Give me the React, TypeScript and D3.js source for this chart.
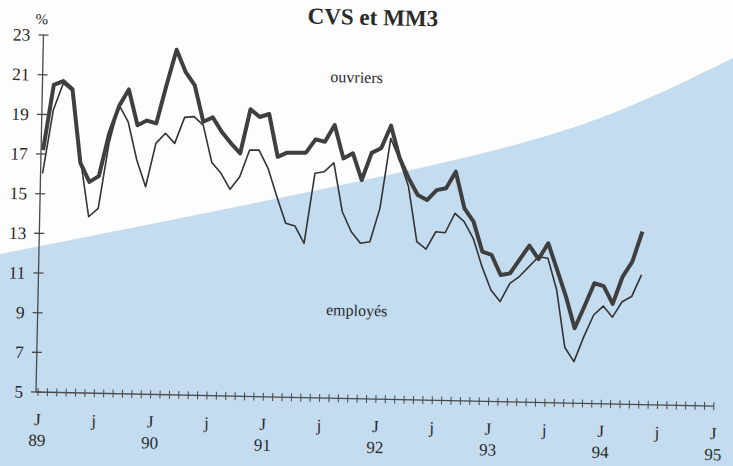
import React from "react";
import * as d3 from "d3";

// Monthly values, Jan 1989 .. May 1994 (%)
const ouvriers = [
  17.2, 20.5, 20.7, 20.3, 16.6, 15.65, 15.95, 18.1, 19.5, 20.35, 18.55, 18.8,
  18.67, 20.6, 22.4, 21.3, 20.64, 18.8, 19.03, 18.3, 17.74, 17.25, 19.48, 19.1,
  19.26, 17.11, 17.33, 17.34, 17.35, 18.03, 17.92, 18.77, 17.1, 17.37, 16.03, 17.41,
  17.65, 18.8, 17.16, 16.16, 15.33, 15.09, 15.6, 15.7, 16.55, 14.71, 14.05, 12.55,
  12.39, 11.39, 11.48, 12.2, 12.9, 12.23, 13.04, 11.72, 10.38, 8.78, 9.9, 11.07,
  10.94, 10.05, 11.44, 12.2, 13.72,
];
const employes = [
  16.03, 19.23, 20.58, 20.2, 16.8, 13.89, 14.32, 17.6, 19.55, 18.72, 16.8, 15.46,
  17.66, 18.18, 17.68, 19.0, 19.05, 18.63, 16.75, 16.22, 15.42, 16.07, 17.42, 17.43,
  16.52, 15.1, 13.77, 13.64, 12.78, 16.32, 16.41, 16.87, 14.41, 13.41, 12.84, 12.93,
  14.62, 18.16, 17.08, 15.74, 12.98, 12.61, 13.5, 13.46, 14.45, 14.04, 13.21, 11.79,
  10.62, 10.05, 10.98, 11.33, 11.84, 12.35, 12.28, 10.7, 7.8, 7.1, 8.37, 9.47,
  9.93, 9.38, 10.17, 10.44, 11.54,
];
const yTicks = [5, 7, 9, 11, 13, 15, 17, 19, 21, 23];
const halfYearLabels = ["J", "j", "J", "j", "J", "j", "J", "j", "J", "j", "J", "j", "J"];
const yearLabels = ["89", "90", "91", "92", "93", "94", "95"];
const totalMonths = 72;
const title = "CVS et MM3";
const unitLabel = "%";
const seriesLabels = ["ouvriers", "employés"];

const W = 733;
const H = 466;
const FONT = "'Liberation Serif', 'DejaVu Serif', serif";

export default function App() {
  const x = d3.scaleLinear().domain([0, totalMonths]).range([38, 714]);
  const y = d3.scaleLinear().domain([5, 23]).range([392, 35]);

  const line = d3
    .line<number>()
    .x((_, i) => x(i))
    .y((d) => y(d));

  const bg = d3.line<[number, number]>().curve(d3.curveNatural);
  const bgPts: [number, number][] = [
    [0, 254],
    [250, 204],
    [450, 161],
    [600, 118],
    [733, 58],
  ];
  const bgPath = bg(bgPts) + `L${W},${H}L0,${H}Z`;

  const monthTicks = d3.range(totalMonths + 1);
  const axisColor = "#4a4a4a";

  return (
    <svg
      width={W}
      height={H}
      style={{ position: "fixed", left: 0, top: 0, background: "#fdfdfd" }}
    >
      <path d={bgPath} fill="#c3dcf0" />
      <g transform="rotate(1.2 36 392)" style={{ fontFamily: FONT }} fill="#2a2a2a">
        <text x={365} y={18} textAnchor="middle" fontSize={23} fontWeight="bold">
          {title}
        </text>
        <text x={34} y={24} textAnchor="middle" fontSize={15}>
          {unitLabel}
        </text>
        {/* y axis */}
        <line x1={36} x2={36} y1={y(23)} y2={y(5)} stroke={axisColor} strokeWidth={1.3} />
        {yTicks.map((t) => (
          <g key={t}>
            <line x1={31} x2={41} y1={y(t)} y2={y(t)} stroke={axisColor} strokeWidth={1.3} />
            <text x={23} y={y(t) + 6} textAnchor="end" fontSize={17.5}>
              {t}
            </text>
          </g>
        ))}
        {/* x axis */}
        <line x1={36} x2={x(totalMonths)} y1={y(5)} y2={y(5)} stroke={axisColor} strokeWidth={1.3} />
        {monthTicks.map((m) => (
          <line
            key={m}
            x1={x(m)}
            x2={x(m)}
            y1={y(5) - 4}
            y2={y(5) + 4}
            stroke={axisColor}
            strokeWidth={1}
          />
        ))}
        {halfYearLabels.map((l, i) => (
          <text key={i} x={x(i * 6)} y={425} textAnchor="middle" fontSize={17}>
            {l}
          </text>
        ))}
        {yearLabels.map((l, i) => (
          <text key={l} x={x(i * 12)} y={446} textAnchor="middle" fontSize={17}>
            {l}
          </text>
        ))}
        {/* series */}
        <path d={line(employes) || ""} fill="none" stroke="#333" strokeWidth={1.6} strokeLinejoin="round" />
        <path d={line(ouvriers) || ""} fill="none" stroke="#3f3f3f" strokeWidth={4} strokeLinejoin="round" />
        <text x={350} y={76} textAnchor="middle" fontSize={16}>
          {seriesLabels[0]}
        </text>
        <text x={355} y={309} textAnchor="middle" fontSize={16}>
          {seriesLabels[1]}
        </text>
      </g>
    </svg>
  );
}
